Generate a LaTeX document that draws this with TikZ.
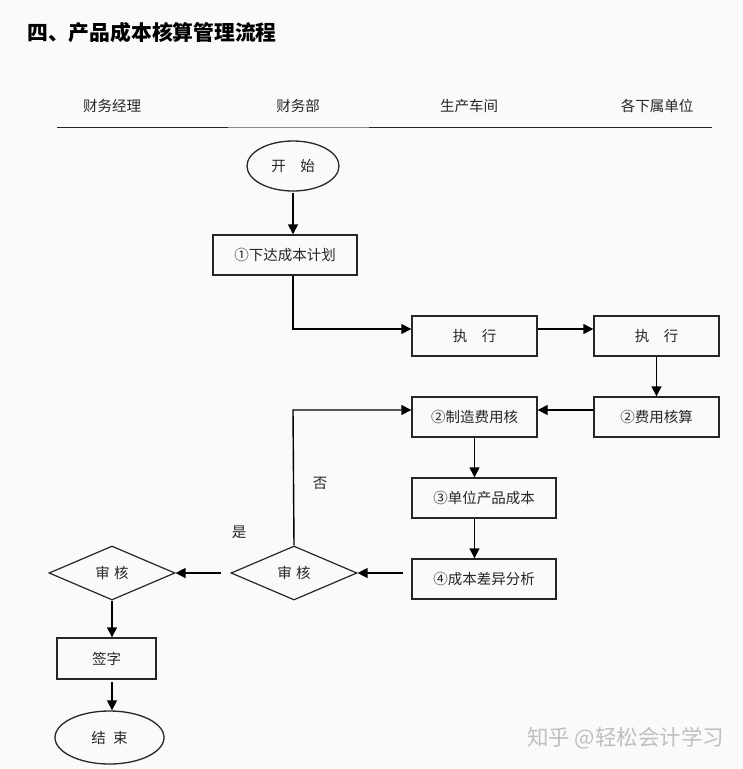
\documentclass[tikz,border=0pt]{standalone}
\usepackage{fontspec}
\setmainfont{Noto Sans CJK SC}
\usetikzlibrary{arrows.meta,shapes.geometric}
\begin{document}
\begin{tikzpicture}[x=1pt,y=-1pt,
  every node/.style={font=\fontsize{14.5}{16}\selectfont, text=black!85},
  box/.style={draw=black!85, line width=1.4pt, minimum height=40pt, inner sep=0pt},
  term/.style={draw=black!85, line width=1.3pt, ellipse, inner sep=0pt},
  dec/.style={draw=black!85, line width=1.2pt, diamond, aspect=2.33, inner sep=0pt},
  conn/.style={line width=1.4pt, draw=black, -{Triangle[length=10pt,width=10pt]}},
  lane/.style={line width=1.4pt},
  lbl/.style={font=\fontsize{14.5}{16}\selectfont}]
\fill[black!2] (0,0) rectangle (743,769);
\useasboundingbox (0,0) rectangle (743,769);
% title
\node[anchor=west, font=\fontsize{20.8}{22}\selectfont\bfseries, text=black, inner sep=0pt] (title) at (27,33) {四、产品成本核算管理流程};
% lane headers
\node (h1) at (112,106) {财务经理};
\node (h2) at (298,106) {财务部};
\node (h3) at (469,106) {生产车间};
\node (h4) at (657,106) {各下属单位};
\coordinate (l0) at (57,127.5);
\coordinate (l1) at (228,127.5);
\coordinate (l2) at (369,127.5);
\coordinate (l3) at (712,127.5);
\draw[lane, black!85] (l0) -- (l1);
\draw[line width=1pt, black!45] (l1) -- (l2);
\draw[lane, black!85] (l2) -- (l3);
% nodes
\node[term, minimum width=92pt, minimum height=50pt] (start) at (293,166) {开\hspace{1em}始};
\node[box, minimum width=144pt] (plan) at (285,255) {①下达成本计划};
\node[box, minimum width=125pt] (exec1) at (474.5,336) {执\hspace{1em}行};
\node[box, minimum width=125pt] (exec2) at (656.5,336) {执\hspace{1em}行};
\node[box, minimum width=125pt] (fee) at (656.5,417) {②费用核算};
\node[box, minimum width=125pt] (mfg) at (474.5,417) {②制造费用核};
\node[box, minimum width=144pt] (unit) at (484,498) {③单位产品成本};
\node[box, minimum width=144pt] (diff) at (484,579) {④成本差异分析};
\node[dec, minimum width=126pt, minimum height=54pt] (rev1) at (294,573) {审\hspace{0.3em}核};
\node[dec, minimum width=126pt, minimum height=54pt] (rev2) at (112,573) {审\hspace{0.3em}核};
\node[box, minimum width=99pt, minimum height=41pt] (sign) at (106.5,658.5) {签字};
\node[term, minimum width=109pt, minimum height=53pt] (end) at (109.5,737.5) {结\hspace{0.5em}束};
\node[lbl] (no) at (320,483) {否};
\node[lbl] (yes) at (239,532) {是};
% connectors
\draw[conn] (start.south |- 0,193) -- (plan.north -| start.south);
\coordinate (c1) at (293,329);
\draw[conn] (plan.south -| c1) -- (c1) -- (exec1.west |- c1);
\draw[conn] (exec1.east |- c1) -- (exec2.west |- c1);
\draw[conn] (exec2.south) -- (fee.north);
\coordinate (c2) at (537,410);
\draw[conn] (fee.west |- c2) -- (mfg.east |- c2);
\draw[conn] (mfg.south) -- (mfg.south |- unit.north);
\draw[conn] (mfg.south |- unit.south) -- (mfg.south |- diff.north);
\coordinate (c3) at (403,573);
\draw[conn] (c3) -- (rev1.east);
\coordinate (c4) at (293,410);
\draw[conn] (rev1.north) -- (c4) -- (mfg.west |- c4);
\coordinate (c5) at (221,573);
\draw[conn] (c5) -- (rev2.east);
\draw[conn] (rev2.south) -- (rev2.south |- sign.north);
\coordinate (c6) at (112,682);
\draw[conn] (c6) -- (c6 |- end.north);
% watermark
\node[anchor=west, font=\fontsize{21.5}{23}\selectfont, text=black!25, inner sep=0pt] (wm) at (527,738) {知乎 @轻松会计学习};
\end{tikzpicture}
\end{document}
